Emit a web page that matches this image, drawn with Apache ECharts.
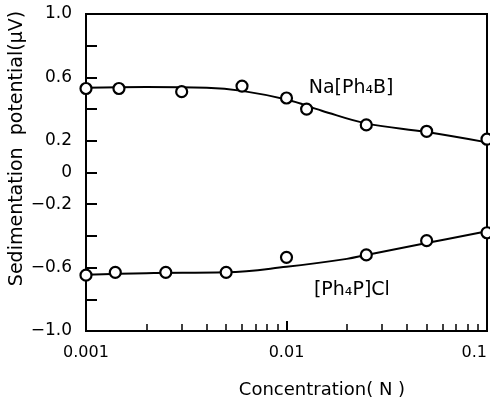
<!DOCTYPE html>
<html>
<head>
<meta charset="utf-8">
<script src="https://cdn.jsdelivr.net/npm/echarts@6/dist/echarts.min.js"></script>
<style>
html, body { margin: 0; padding: 0; background: #fff; }
#chart { width: 490px; height: 398px; }
</style>
</head>
<body>
<div id="chart"></div>
<script>
// measured points, Na[Ph4B]
const naConc = [0.001, 0.00146, 0.003, 0.006, 0.01, 0.0126, 0.025, 0.05, 0.1];
const naPot = [0.53, 0.53, 0.51, 0.545, 0.47, 0.40, 0.30, 0.26, 0.21];
// measured points, [Ph4P]Cl
const clConc = [0.001, 0.0014, 0.0025, 0.005, 0.01, 0.025, 0.05, 0.1];
const clPot = [-0.648, -0.63, -0.63, -0.63, -0.535, -0.52, -0.43, -0.38];
// fitted curves
const naCurveConc = [0.001, 0.002, 0.004, 0.006, 0.01, 0.015, 0.025, 0.05, 0.1];
const naCurvePot = [0.535, 0.54, 0.535, 0.515, 0.46, 0.39, 0.31, 0.255, 0.19];
const clCurveConc = [0.001, 0.002, 0.005, 0.01, 0.02, 0.025, 0.05, 0.1];
const clCurvePot = [-0.645, -0.635, -0.63, -0.595, -0.545, -0.52, -0.445, -0.37];
// axis ticks
const xMajorTicks = [0.001, 0.01, 0.1];
const xMinorTicks = [0.002, 0.003, 0.004, 0.005, 0.006, 0.007, 0.008, 0.009,
  0.02, 0.03, 0.04, 0.05, 0.06, 0.07, 0.08, 0.09];
const yLabelTicks = [1.0, 0.6, 0.2, 0, -0.2, -0.6, -1.0];

const FONT = 'DejaVu Sans';
const zip = (xs, ys) => xs.map((x, i) => [x, ys[i]]);
const fmtY = v => v === 0 ? '0' : (v < 0 ? '\u2212' : '') + Math.abs(v).toFixed(1);
const marker = { color: '#fff', borderColor: '#000', borderWidth: 2.2, opacity: 1 };

const chart = echarts.init(document.getElementById('chart'), null, { renderer: 'canvas' });
chart.setOption({
  animation: false,
  backgroundColor: '#fff',
  textStyle: { fontFamily: FONT, color: '#000' },
  grid: { left: 86, right: 3, top: 14, bottom: 67, outerBoundsMode: 'none', containLabel: false,
    show: true, borderColor: '#000', borderWidth: 2 },
  xAxis: [{
    type: 'log', logBase: 10, min: 0.001, max: 0.1,
    name: 'Concentration( N )', nameLocation: 'middle', nameGap: 50,
    nameTextStyle: { fontFamily: FONT, fontSize: 18, color: '#000', padding: [0, 0, 0, 71] },
    axisLine: { onZero: false, lineStyle: { color: '#000', width: 2 } },
    axisTick: { inside: true, length: 10, lineStyle: { color: '#000', width: 2 }, customValues: xMajorTicks },
    axisLabel: { customValues: xMajorTicks, margin: 14, fontFamily: FONT, fontSize: 16, color: '#000',
      alignMaxLabel: 'right', formatter: v => String(+v.toPrecision(1)) },
    splitLine: { show: false }, minorTick: { show: false }
  }, {
    type: 'log', logBase: 10, min: 0.001, max: 0.1, position: 'bottom',
    axisLine: { show: false, onZero: false },
    axisTick: { inside: true, length: 7, lineStyle: { color: '#000', width: 1.5 }, customValues: xMinorTicks },
    axisLabel: { show: false }, splitLine: { show: false }
  }],
  yAxis: {
    type: 'value', min: -1, max: 1, interval: 0.2,
    name: 'Sedimentation  potential(\u03bcV)', nameLocation: 'middle', nameGap: 59, nameMoveOverlap: false,
    nameTextStyle: { fontFamily: FONT, fontSize: 19, color: '#000', padding: [0, 0, 0, 48] },
    axisLine: { onZero: false, lineStyle: { color: '#000', width: 2 } },
    axisTick: { inside: true, length: 11, lineStyle: { color: '#000', width: 2 } },
    axisLabel: { customValues: yLabelTicks, margin: 14, fontFamily: FONT, fontSize: 17, color: '#000', formatter: fmtY },
    splitLine: { show: false }
  },
  series: [{
    type: 'line', data: zip(naCurveConc, naCurvePot), smooth: 0.4, showSymbol: false,
    lineStyle: { color: '#000', width: 2 },
    markPoint: {
      symbol: 'circle', symbolSize: 1, itemStyle: { color: 'transparent' },
      label: { show: true, position: 'inside', fontFamily: FONT, fontSize: 19, color: '#000', formatter: 'Na[Ph\u2084B]' },
      data: [{ coord: [0.021, 0.535] }]
    }
  }, {
    type: 'line', data: zip(clCurveConc, clCurvePot), smooth: 0.4, showSymbol: false,
    lineStyle: { color: '#000', width: 2 },
    markPoint: {
      symbol: 'circle', symbolSize: 1, itemStyle: { color: 'transparent' },
      label: { show: true, position: 'inside', fontFamily: FONT, fontSize: 19, color: '#000', formatter: '[Ph\u2084P]Cl' },
      data: [{ coord: [0.0212, -0.74] }]
    }
  }, {
    type: 'scatter', data: zip(naConc, naPot), symbol: 'circle', symbolSize: 11, clip: false, z: 5,
    itemStyle: marker
  }, {
    type: 'scatter', data: zip(clConc, clPot), symbol: 'circle', symbolSize: 11, clip: false, z: 5,
    itemStyle: marker
  }]
});
</script>
</body>
</html>
